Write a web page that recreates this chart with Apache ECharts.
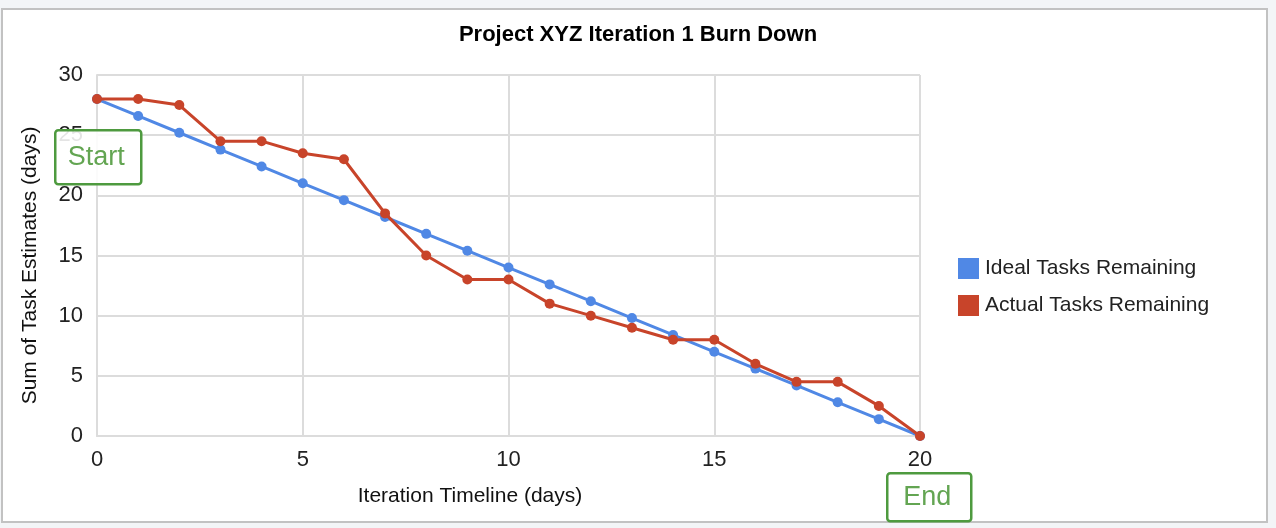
<!DOCTYPE html>
<html>
<head>
<meta charset="utf-8">
<script src="https://cdn.jsdelivr.net/npm/echarts@6/dist/echarts.min.js"></script>
<style>
  html, body { margin: 0; padding: 0; width: 1276px; height: 528px; background: #f3f5f7; overflow: hidden; }
  #frame { position: absolute; left: 1px; top: 8px; width: 1263px; height: 511px; background: #fff; border: 2px solid #c2c2c2; }
  #chart { position: absolute; left: 0; top: 0; width: 1276px; height: 528px; }
</style>
</head>
<body>
<div id="frame"></div>
<div id="chart"></div>
<script>
const days = [0, 1, 2, 3, 4, 5, 6, 7, 8, 9, 10, 11, 12, 13, 14, 15, 16, 17, 18, 19, 20];
const idealRemaining = [28, 26.6, 25.2, 23.8, 22.4, 21, 19.6, 18.2, 16.8, 15.4, 14, 12.6, 11.2, 9.8, 8.4, 7, 5.6, 4.2, 2.8, 1.4, 0];
const actualRemaining = [28, 28, 27.5, 24.5, 24.5, 23.5, 23, 18.5, 15, 13, 13, 11, 10, 9, 8, 8, 6, 4.5, 4.5, 2.5, 0];
const seriesNames = ['Ideal Tasks Remaining', 'Actual Tasks Remaining'];
const colors = ['#5088e5', '#c8442a'];

const font = 'Liberation Sans, Arial, sans-serif';
const gridColor = '#dcdcdc';

function pairs(vals) {
  return days.map((d, i) => [d, vals[i]]);
}

function noteBox(text, left, top, w, h) {
  return {
    type: 'group',
    left,
    top,
    z: 100,
    children: [
      { type: 'rect', z: 100, shape: { x: 0, y: 0, width: w, height: h, r: 3 }, style: { fill: 'rgba(255,255,255,0.88)', stroke: '#4e9a3f', lineWidth: 2.5 } },
      { type: 'text', z: 101, x: w / 2 - 2, y: h / 2, style: { text, fill: '#63a552', font: `27px ${font}`, align: 'center', verticalAlign: 'middle' } },
    ],
  };
}

const chart = echarts.init(document.getElementById('chart'));
chart.setOption({
  animation: false,
  backgroundColor: 'transparent',
  title: {
    text: 'Project XYZ Iteration 1 Burn Down',
    left: 'center',
    top: 24,
    padding: 0,
    textStyle: { fontFamily: font, fontSize: 22, fontWeight: 'bold', color: '#000' },
  },
  grid: { left: 97, right: 356, top: 75, bottom: 92 },
  legend: {
    orient: 'vertical',
    left: 958,
    top: 258,
    padding: 0,
    itemWidth: 21,
    itemHeight: 21,
    itemGap: 16,
    icon: 'rect',
    textStyle: { fontFamily: font, fontSize: 21, lineHeight: 21, color: '#222', padding: [0, 0, 0, 1] },
    data: seriesNames,
  },
  xAxis: {
    type: 'value',
    min: 0,
    max: 20,
    interval: 5,
    name: 'Iteration Timeline (days)',
    nameLocation: 'middle',
    nameGap: 50,
    nameTextStyle: { fontFamily: font, fontSize: 21, color: '#111', padding: [0, 77, 0, 0] },
    axisLine: { lineStyle: { color: gridColor, width: 2 } },
    axisTick: { show: false },
    axisLabel: { fontFamily: font, fontSize: 22, color: '#222', margin: 13 },
    splitLine: { lineStyle: { color: gridColor, width: 2 } },
  },
  yAxis: {
    type: 'value',
    min: 0,
    max: 30,
    interval: 5,
    name: 'Sum of Task Estimates (days)',
    nameLocation: 'middle',
    nameGap: 56,
    nameTextStyle: { fontFamily: font, fontSize: 21, color: '#111', padding: [0, 20, 0, 0] },
    axisLine: { show: true, lineStyle: { color: gridColor, width: 2 } },
    axisTick: { show: false },
    axisLabel: { fontFamily: font, fontSize: 22, color: '#222', margin: 14 },
    splitLine: { lineStyle: { color: gridColor, width: 2 } },
  },
  series: [
    {
      name: seriesNames[0],
      type: 'line',
      data: pairs(idealRemaining),
      color: colors[0],
      symbol: 'circle',
      symbolSize: 10,
      lineStyle: { width: 3 },
      z: 2,
    },
    {
      name: seriesNames[1],
      type: 'line',
      data: pairs(actualRemaining),
      color: colors[1],
      symbol: 'circle',
      symbolSize: 10,
      lineStyle: { width: 3 },
      z: 3,
    },
  ],
  graphic: [
    noteBox('Start', 54, 129, 86, 54),
    noteBox('End', 886, 472, 84, 48),
  ],
});
</script>
</body>
</html>
